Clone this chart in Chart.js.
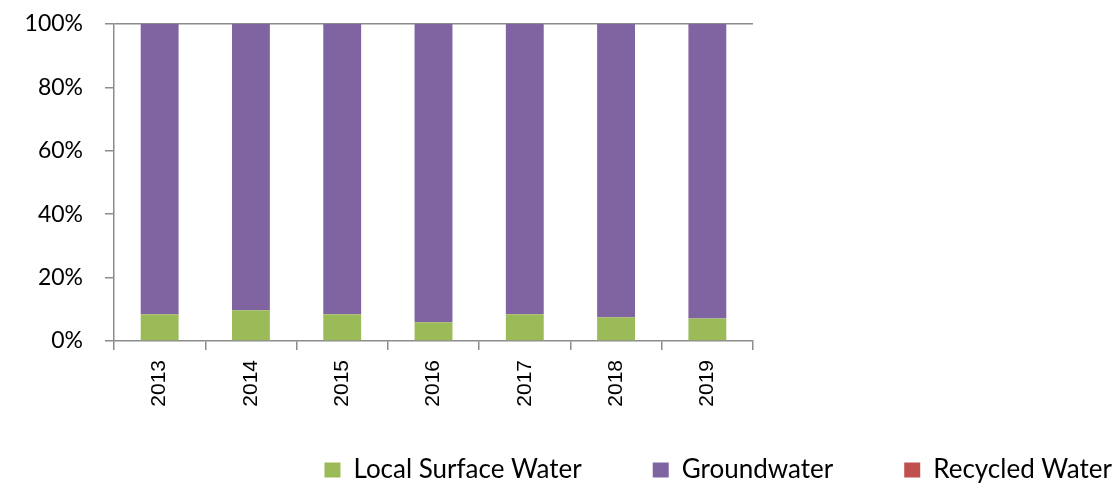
<!DOCTYPE html>
<html>
<head>
<meta charset="utf-8">
<script src="https://cdn.jsdelivr.net/npm/chart.js@4/dist/chart.umd.min.js"></script>
<style>
    html, body { margin: 0; padding: 0; background: #fff; }
    #wrap { width: 1118px; height: 483px; position: relative; }
</style>
</head>
<body>
<div id="wrap"><canvas id="chart"></canvas></div>
<script>
// Share of water supply by source, per year (percent).
const years = ['2013', '2014', '2015', '2016', '2017', '2018', '2019'];
const localSurface = [8.4, 9.7, 8.4, 5.9, 8.4, 7.5, 7.1];
const groundwater = [91.6, 90.3, 91.6, 94.1, 91.6, 92.5, 92.9];
const recycled = [0, 0, 0, 0, 0, 0, 0];
const yTicks = [0, 20, 40, 60, 80, 100];

const axisGrey = '#8c8c8c';

// The x labels get clipped to the axis box, so the axis keeps its room and
// the legend is lifted back up after layout.
const legendLift = {
    id: 'legendLift',
    afterLayout: function (chart) {
        const lg = chart.legend;
        lg.top -= 24;
        lg.bottom -= 24;
    }
};

new Chart(document.getElementById('chart').getContext('2d'), {
    type: 'bar',
    data: {
        labels: years,
        datasets: [
            { label: 'Local Surface Water', data: localSurface, backgroundColor: '#9bbb59' },
            { label: 'Groundwater', data: groundwater, backgroundColor: '#8064a2' },
            { label: 'Recycled Water', data: recycled, backgroundColor: '#c0504d' }
        ]
    },
    plugins: [legendLift],
    options: {
        responsive: true,
        maintainAspectRatio: false,
        animation: false,
        layout: { padding: { top: 24, left: 0, right: -65, bottom: -34 } },
        datasets: { bar: { barPercentage: 0.415, categoryPercentage: 1 } },
        plugins: {
            tooltip: { enabled: false },
            legend: {
                position: 'bottom',
                align: 'end',
                labels: {
                    boxWidth: 16,
                    boxHeight: 15,
                    padding: 71,
                    color: '#000',
                    font: { family: 'Lato', size: 26 }
                }
            }
        },
        scales: {
            x: {
                stacked: true,
                grid: { drawOnChartArea: false, tickLength: 9, color: axisGrey, lineWidth: 1.5 },
                border: { color: axisGrey, width: 1.5 },
                ticks: {
                    minRotation: 90,
                    maxRotation: 90,
                    padding: 10,
                    color: '#000',
                    font: { family: 'Liberation Sans', size: 21 }
                },
                afterFit: function (s) { s.height = 69; }
            },
            y: {
                stacked: true,
                min: 0,
                max: 100,
                afterBuildTicks: function (s) { s.ticks = yTicks.map(v => ({ value: v })); },
                grid: {
                    tickLength: 9,
                    lineWidth: 1.5,
                    color: ctx => (ctx.tick && ctx.tick.value === 100 ? axisGrey : 'rgba(0,0,0,0)'),
                    tickColor: axisGrey
                },
                border: { color: axisGrey, width: 1.5 },
                ticks: {
                    padding: 22,
                    color: '#000',
                    font: { family: 'Lato', size: 23 },
                    callback: v => v + '%'
                },
                afterFit: function (s) {
                    s.width = 114;
                    // label padding would otherwise push the plot top down
                    s.paddingTop = 0;
                    s.paddingBottom = 0;
                }
            },
            pad: {
                type: 'linear',
                position: 'right',
                display: true,
                grid: { display: false },
                border: { display: false },
                ticks: { display: false },
                afterFit: function (s) { s.width = 430; }
            }
        }
    }
});
</script>
</body>
</html>
